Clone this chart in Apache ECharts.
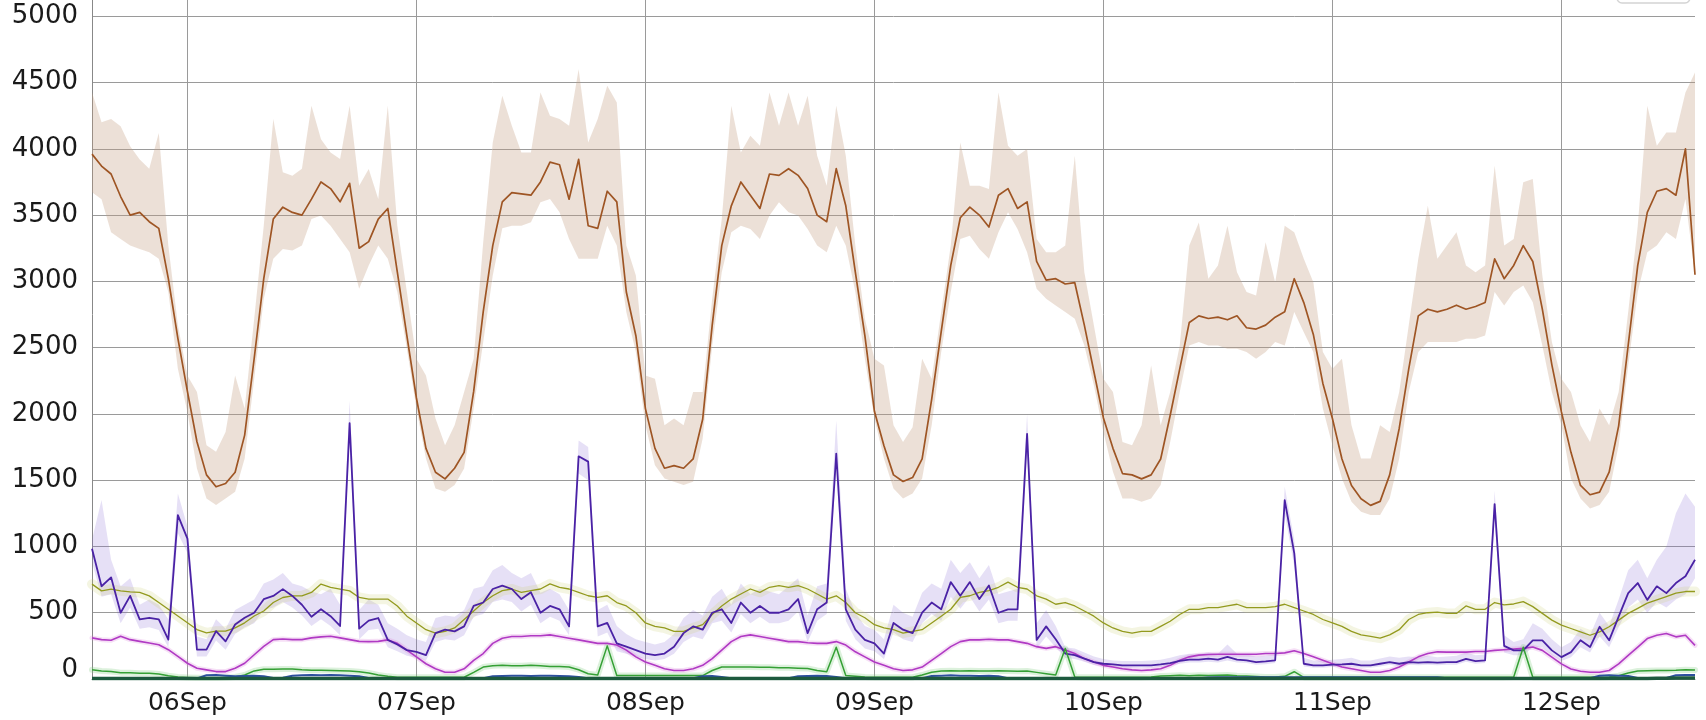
<!DOCTYPE html>
<html>
<head>
<meta charset="utf-8">
<script src="https://cdn.jsdelivr.net/npm/echarts@6/dist/echarts.min.js"></script>
<style>
  html, body { margin: 0; padding: 0; background: #fff; overflow: hidden; width: 1706px; height: 720px; }
  /* the plot continues above the visible window, so the canvas starts 50px above it */
  #chart { position: absolute; left: 0; top: -50px; width: 1706px; height: 770px; }
</style>
</head>
<body>
<div id="chart"></div>
<script>
// Hourly samples from 05Sep 14:00 to 12Sep 14:00 (169 points per series).
const DAYS = ['05Sep', '06Sep', '07Sep', '08Sep', '09Sep', '10Sep', '11Sep', '12Sep'];
const FIRST_HOUR = 14;
const Y_MAX = 5500;
const Y_STEP = 500;

const brownMean = [
  3960,3870,3810,3640,3500,3520,3450,3400,3020,2570,2170,1790,1540,1450,1475,1560,1840,2420,3020,3470,3560,3520,3500,3620,
  3750,3700,3600,3740,3250,3300,3470,3550,3070,2590,2120,1740,1560,1510,1590,1710,2170,2770,3270,3600,3670,3660,3650,3750,
  3900,3880,3620,3920,3420,3400,3680,3600,2920,2590,2040,1740,1590,1610,1590,1660,1960,2670,3270,3570,3750,3650,3550,3810,
  3800,3850,3800,3700,3500,3450,3850,3570,3070,2590,2020,1760,1540,1490,1520,1660,2110,2620,3120,3480,3560,3500,3410,3650,
  3700,3550,3600,3150,3010,3020,2980,2990,2670,2320,1970,1740,1550,1540,1510,1540,1660,1990,2340,2690,2740,2720,2730,2710,
  2740,2650,2640,2670,2730,2770,3020,2840,2600,2230,1965,1660,1460,1360,1310,1340,1540,1890,2340,2740,2790,2770,2790,2820,
  2790,2810,2840,3170,3020,3120,3270,3150,2790,2370,2015,1710,1460,1390,1410,1560,1910,2520,3120,3520,3680,3700,3650,4000,
  3050
];
const brownHi = [
  4425,4200,4225,4170,4020,3920,3850,4120,3270,2670,2290,2166,1764,1714,1864,2290,2040,2718,3420,4225,3823,3797,3850,4325,
  4073,3973,3923,4325,3722,3847,3621,4325,3420,2919,2417,2290,1965,1764,1914,2166,2417,3295,4048,4400,4174,3973,3973,4425,
  4250,4225,4174,4600,4048,4225,4475,4350,3270,3044,2290,2266,1914,1965,1914,2166,2166,2868,3471,4325,3973,4098,4023,4425,
  4174,4425,4174,4400,3948,3722,4325,3948,3270,2718,2417,2366,1914,1789,1900,2417,2266,2768,3270,4048,3722,3722,3697,4425,
  4023,3948,3998,3320,3220,3220,3270,3948,3069,2668,2266,2166,1789,1764,1914,2366,1914,2166,2517,3270,3445,3019,3120,3420,
  3069,2919,2894,3295,2994,3420,3370,3170,2994,2467,2341,2417,1914,1664,1664,1914,1864,2166,2668,3170,3571,3170,3270,3370,
  3120,3069,3120,3873,3270,3320,3747,3772,3044,2542,2266,2166,1914,1789,2040,1914,2166,2768,3420,4325,4023,4124,4124,4425,
  4575
];
const brownLo = [
  3672,3620,3370,3320,3270,3245,3220,3170,2920,2340,2015,1588,1362,1312,1362,1412,1664,2266,2868,3170,3245,3232,3270,3471,
  3496,3420,3320,3220,2944,3120,3270,3170,2920,2492,2040,1664,1438,1412,1463,1588,2040,2543,3044,3400,3420,3420,3446,3596,
  3621,3521,3320,3170,3170,3170,3420,3270,2768,2467,1914,1613,1513,1488,1463,1488,1814,2517,3069,3370,3420,3395,3320,3496,
  3596,3521,3496,3395,3270,3220,3420,3270,2919,2417,1965,1664,1438,1362,1400,1513,1914,2467,2919,3320,3345,3245,3170,3370,
  3521,3395,3220,2944,2868,2818,2768,2718,2517,2216,1864,1563,1362,1362,1337,1362,1463,1789,2166,2517,2542,2517,2517,2492,
  2492,2467,2417,2467,2542,2517,2768,2617,2467,2040,1764,1513,1337,1262,1237,1237,1362,1664,2166,2467,2542,2542,2542,2542,
  2567,2567,2592,2919,2818,2919,2969,2843,2517,2166,1914,1513,1362,1287,1312,1412,1764,2366,2919,3220,3270,3370,3320,3621,
  3044
];
const purpleMean = [
  983,700,767,500,627,450,462,450,297,1237,1059,221,221,361,284,411,462,500,602,627,678,627,560,470,
  526,474,400,1930,380,440,460,295,260,218,205,180,346,372,359,397,551,577,679,705,679,603,654,500,
  551,526,397,1680,1640,397,423,269,244,218,192,180,192,244,346,397,372,500,526,423,577,500,551,500,
  500,526,603,346,526,577,1700,526,372,295,269,192,423,372,346,500,577,526,731,628,731,603,705,500,
  526,526,1850,295,397,300,192,180,154,128,115,110,103,103,103,103,110,120,136,146,146,154,146,167,
  146,141,128,133,141,1350,950,115,103,103,108,110,115,103,103,115,128,115,128,123,128,123,127,127,
  152,135,140,1320,250,216,216,292,292,216,165,203,292,241,394,292,470,648,724,597,699,648,724,775,
  900
];
const purpleHi = [
  1050,1350,900,700,760,560,600,560,450,1400,1150,320,300,450,380,520,560,600,720,750,800,720,700,660,
  640,680,560,2100,520,600,560,420,380,330,300,280,460,480,470,520,680,700,820,860,800,760,800,650,
  680,640,520,1800,1750,520,560,400,340,300,280,260,280,340,460,520,480,620,680,560,720,640,680,660,
  640,700,760,480,700,720,1950,680,500,400,370,300,560,500,470,650,720,680,900,800,880,760,860,640,
  660,680,2000,420,520,400,240,230,200,170,150,140,135,135,135,140,145,160,180,190,190,200,190,260,
  190,185,170,175,185,1450,1050,160,140,140,145,150,160,140,140,155,170,160,170,165,175,165,170,175,
  200,180,185,1420,330,280,300,420,380,300,240,280,380,330,500,400,600,820,900,760,900,1000,1250,1400,
  1300
];
const purpleLo = [
  880,620,640,420,540,380,390,370,240,1100,950,170,170,290,220,340,390,420,520,540,580,540,480,400,
  450,400,330,1800,300,370,380,240,210,175,160,140,280,300,290,330,470,490,580,600,580,510,560,420,
  470,440,330,1550,1500,320,350,210,190,170,150,140,150,190,280,320,300,420,440,350,490,420,470,420,
  420,440,510,280,440,490,1580,440,300,230,210,150,350,300,280,420,490,440,620,530,620,510,600,420,
  440,440,1720,230,320,240,160,150,130,105,95,90,85,85,85,85,90,100,115,125,125,130,125,140,
  125,120,108,112,120,1250,850,95,85,85,90,90,95,85,85,95,108,95,108,103,108,103,107,107,
  130,115,120,1200,200,180,180,240,240,180,135,165,240,200,320,240,390,540,600,500,580,540,600,640,
  760
];
const oliveMean = [
  716,665,678,665,658,653,627,577,526,475,424,373,348,361,361,386,424,475,513,577,615,627,627,653,
  716,691,678,665,615,602,602,603,551,474,423,372,346,359,385,449,513,577,628,667,679,654,667,679,
  718,692,679,654,628,615,628,577,551,500,423,397,385,359,359,385,410,487,551,603,641,679,654,692,
  705,692,705,679,641,603,628,577,500,462,410,385,372,346,359,372,423,474,526,615,628,654,667,692,
  731,692,679,628,603,564,577,551,513,474,423,385,359,346,359,359,397,436,487,526,526,538,538,551,
  564,538,538,538,546,564,538,513,487,449,423,397,359,333,321,308,333,372,449,487,500,505,495,495,
  551,526,526,577,559,566,584,546,495,444,406,381,356,330,356,394,444,495,533,572,597,622,648,660,
  660
];
const magentaMean = [
  310,297,292,323,297,284,272,259,221,170,119,81,69,56,56,81,119,183,246,297,302,297,297,310,
  318,323,310,297,284,282,284,295,269,218,167,115,77,51,51,77,141,192,269,308,321,321,326,326,
  333,321,308,295,282,269,269,256,218,167,128,103,77,64,64,77,103,154,218,282,321,333,321,308,
  295,282,282,274,269,269,282,256,205,167,128,103,77,64,69,90,141,192,244,282,295,295,300,295,
  295,282,269,244,231,244,218,192,154,128,103,90,77,69,64,69,77,103,141,167,180,185,187,187,
  187,187,187,192,192,197,213,192,167,141,115,90,77,64,51,51,64,90,128,167,192,205,203,203,
  203,208,208,216,221,226,231,241,216,165,114,76,58,51,51,64,114,178,241,305,330,343,318,330,
  254
];
const greenMean = [
  69,61,56,48,48,43,43,38,25,15,12,10,10,10,12,15,30,61,74,74,76,76,70,66,
  66,64,62,60,55,45,30,20,13,13,13,13,13,13,13,13,50,90,100,103,100,100,103,100,
  95,95,90,70,40,30,250,26,26,26,26,26,26,26,26,26,26,64,90,90,90,90,88,88,
  85,85,82,80,64,55,240,26,20,15,13,13,13,13,13,30,51,60,62,60,62,60,60,62,
  60,58,60,50,40,30,230,15,13,13,13,13,13,13,13,15,22,25,28,25,28,26,28,30,
  25,22,18,15,15,20,55,13,13,13,13,13,13,13,13,13,13,13,13,13,13,13,13,13,
  13,13,13,13,13,15,240,13,13,13,13,13,13,13,13,15,25,45,60,62,64,64,66,70,
  68
];
const blueMean = [
  5,5,5,5,5,5,5,5,5,5,5,5,28,30,25,20,22,25,20,8,10,25,28,30,
  28,30,28,25,20,8,5,5,5,5,5,5,5,5,5,5,5,5,20,22,25,25,22,25,
  25,22,20,15,5,5,5,5,5,5,5,5,5,5,5,5,20,22,15,5,5,5,5,5,
  5,5,20,22,25,22,15,5,5,5,5,5,5,5,5,5,22,25,28,25,25,22,25,20,
  5,5,5,5,5,5,5,5,5,5,5,5,5,5,5,5,5,5,5,5,5,12,14,14,
  14,13,14,13,14,14,13,14,13,14,14,13,14,14,13,14,14,13,14,13,14,13,5,5,
  5,5,5,5,5,5,5,5,5,5,5,5,5,5,25,28,25,22,8,8,8,8,28,30,
  30
];
const darkGreenMean = [
  4,4,4,4,4,4,4,4,4,4,4,4,4,4,4,4,4,4,4,4,4,4,4,4,
  4,4,4,4,4,4,4,4,4,4,4,4,4,4,4,4,4,4,4,4,4,4,4,4,
  4,4,4,4,4,4,4,4,4,4,4,4,4,4,4,4,4,4,4,4,4,4,4,4,
  4,4,4,4,4,4,4,4,4,4,4,4,4,4,4,4,4,4,4,4,4,4,4,4,
  4,4,4,4,4,4,4,4,4,4,4,4,4,4,4,4,4,4,4,4,4,4,4,4,
  4,4,4,4,4,4,4,4,4,4,4,4,4,4,4,4,4,4,4,4,4,4,4,4,
  4,4,4,4,4,4,4,4,4,4,4,4,4,4,4,4,4,4,4,4,5,6,8,8,
  8
];

// Category labels "DDMon HH:00" for each hourly sample.
const categories = brownMean.map((_, k) => {
  const h = FIRST_HOUR + k;
  return DAYS[Math.floor(h / 24)] + ' ' + String(h % 24).padStart(2, '0') + ':00';
});
const isMidnight = (idx, val) => String(val).endsWith(' 00:00');

const FONT = 'DejaVu Sans';

function band(name, lo, hi, color) {
  return [
    { name: name + '-lo', type: 'line', data: lo, stack: name, symbol: 'none',
      lineStyle: { width: 0, opacity: 0 }, silent: true },
    { name: name + '-hi', type: 'line', data: hi.map((v, k) => v - lo[k]), stack: name, symbol: 'none',
      lineStyle: { width: 0, opacity: 0 }, areaStyle: { color: color, opacity: 1 }, silent: true }
  ];
}
function halo(name, data, color, width) {
  return { name: name + '-halo', type: 'line', data: data, symbol: 'none', silent: true,
    lineStyle: { color: color, width: width, join: 'round', cap: 'round' } };
}
function line(name, data, color, width) {
  return { name: name, type: 'line', data: data, symbol: 'none', silent: true,
    lineStyle: { color: color, width: width, join: 'round' } };
}

const chart = echarts.init(document.getElementById('chart'), null, { renderer: 'canvas' });
chart.setOption({
  animation: false,
  backgroundColor: '#ffffff',
  grid: { left: 92, right: 11, top: 0, bottom: 41, containLabel: false, outerBoundsMode: 'none' },
  xAxis: {
    type: 'category',
    data: categories,
    boundaryGap: false,
    axisLine: { show: true, lineStyle: { color: '#888', width: 1 } },
    axisTick: { show: false },
    splitLine: { show: true, interval: isMidnight, lineStyle: { color: '#9a9a9a', width: 1 } },
    axisLabel: {
      interval: isMidnight,
      formatter: v => v.split(' ')[0],
      fontFamily: FONT, fontSize: 25, color: '#1a1a1a', margin: 12
    }
  },
  yAxis: {
    type: 'value',
    min: 0, max: Y_MAX, interval: Y_STEP,
    axisLine: { show: true, lineStyle: { color: '#888', width: 1 } },
    axisTick: { show: false },
    splitLine: { show: true, lineStyle: { color: '#9a9a9a', width: 1 } },
    axisLabel: {
      fontFamily: FONT, fontSize: 26, color: '#1a1a1a', margin: 14,
      formatter: v => (v === 0 ? '{z|0}' : String(v)),
      rich: { z: { fontFamily: FONT, fontSize: 26, color: '#1a1a1a', padding: [0, 0, 18, 0] } }
    }
  },
  graphic: [{
    type: 'rect', z: 100,
    shape: { x: 1617, y: 30, width: 73, height: 23, r: 5 },
    style: { fill: '#fff', stroke: '#d4d4d4', lineWidth: 1.5 }
  }],
  series: [
    ...band('brown', brownLo, brownHi, 'rgba(196,160,130,0.32)'),
    halo('olive', oliveMean, 'rgba(200,205,110,0.20)', 10),
    ...band('purple', purpleLo, purpleHi, 'rgba(130,100,210,0.20)'),
    halo('magenta', magentaMean, 'rgba(220,130,220,0.25)', 5),
    halo('green', greenMean, 'rgba(130,205,130,0.28)', 6),
    line('olive', oliveMean, '#939a1e', 1.3),
    line('magenta', magentaMean, '#b03ac4', 1.6),
    line('purple', purpleMean, '#4a22a5', 1.8),
    line('green', greenMean, '#35a035', 1.5),
    line('blue', blueMean, '#2d4f9e', 2),
    line('darkgreen', darkGreenMean, '#1d5a3e', 3.5),
    line('brown', brownMean, '#9e5524', 1.7)
  ]
});
</script>
</body>
</html>
